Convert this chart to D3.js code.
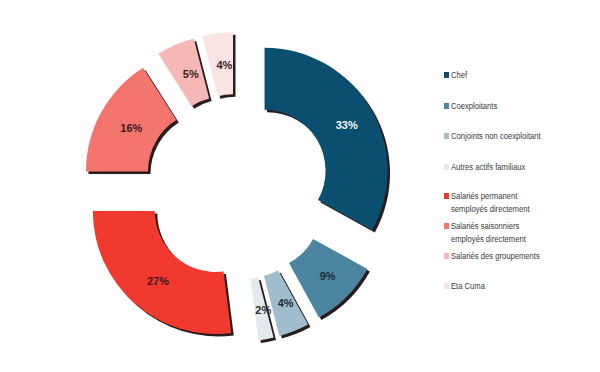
<!DOCTYPE html>
<html><head><meta charset="utf-8">
<script src="https://cdn.jsdelivr.net/npm/d3@7"></script>
<style>body{margin:0;background:#fff}svg{display:block}</style>
</head><body>
<svg id="c" width="600" height="372"></svg>
<script>
const categories = ["Chef","Coexploitants","Conjoints non coexploitant","Autres actifs familiaux","Salariés permanent employés directement","Salariés saisonniers employés directement","Salariés des groupements","Eta Cuma"];
const legendLines = [["Chef"],["Coexploitants"],["Conjoints non coexploitant"],["Autres actifs familiaux"],["Salariés permanent","semployés directement"],["Salariés saisonniers","employés directement"],["Salariés des groupements"],["Eta Cuma"]];
const values = [33,9,4,2,27,16,5,4];
const colors = ["#0b4f70","#4b85a0","#9fbdcc","#e3e9ed","#f2392f","#f3756d","#f6b8b6","#fbe4e4"];
const labelColors = ["#f4f8fa","#1e2a33","#1e2a33","#1e2a33","#3a1a1a","#3a1a1a","#3a1a1a","#3a1a1a"];

const svg = d3.select("#c");
const cx = 237, cy = 187, R = 123, r = 61, explode = 32;
const pie = d3.pie().sort(null).value(d => d)(values);
const arc = d3.arc().innerRadius(r).outerRadius(R);
const lblArc = d3.arc().innerRadius((R + r) / 2).outerRadius((R + r) / 2);
const g = svg.append("g").attr("transform", `translate(${cx},${cy})`);

const slices = g.selectAll("g.s").data(pie).join("g").attr("class","s")
  .attr("transform", d => {
    const a = (d.startAngle + d.endAngle) / 2;
    return `translate(${explode*Math.sin(a)},${-explode*Math.cos(a)})`;
  });
slices.append("path").attr("d", arc).attr("fill", "#2a1c1c")
  .attr("transform", "translate(2.5,2.5)");
slices.append("path").attr("d", arc).attr("fill", (d,i) => colors[i]);
slices.append("text")
  .attr("transform", d => { const c = lblArc.centroid(d); return `translate(${c[0]+3},${c[1]+1})`; })
  .attr("text-anchor","middle").attr("dy","0.35em")
  .attr("font-family","Liberation Sans, Arial, sans-serif")
  .attr("font-size", 11).attr("font-weight","bold")
  .attr("fill", (d,i) => labelColors[i])
  .text(d => d.data + "%");

// legend
const legendY = [76,107,137,168,197,227,257,287];
const lg = svg.append("g");
legendLines.forEach((lines, i) => {
  const y = legendY[i];
  lg.append("rect").attr("x", 444).attr("y", y - 4).attr("width", 5).attr("height", 6).attr("fill", colors[i]);
  const t = lg.append("text")
    .attr("transform", `translate(451,${y + 2}) scale(0.85,1)`)
    .attr("font-family","Liberation Sans, Arial, sans-serif")
    .attr("font-size", 9).attr("fill", "#3a3a3a");
  lines.forEach((ln, k) => t.append("tspan").attr("x", 0).attr("y", k * 13.5).text(ln));
});
</script>
</body></html>
